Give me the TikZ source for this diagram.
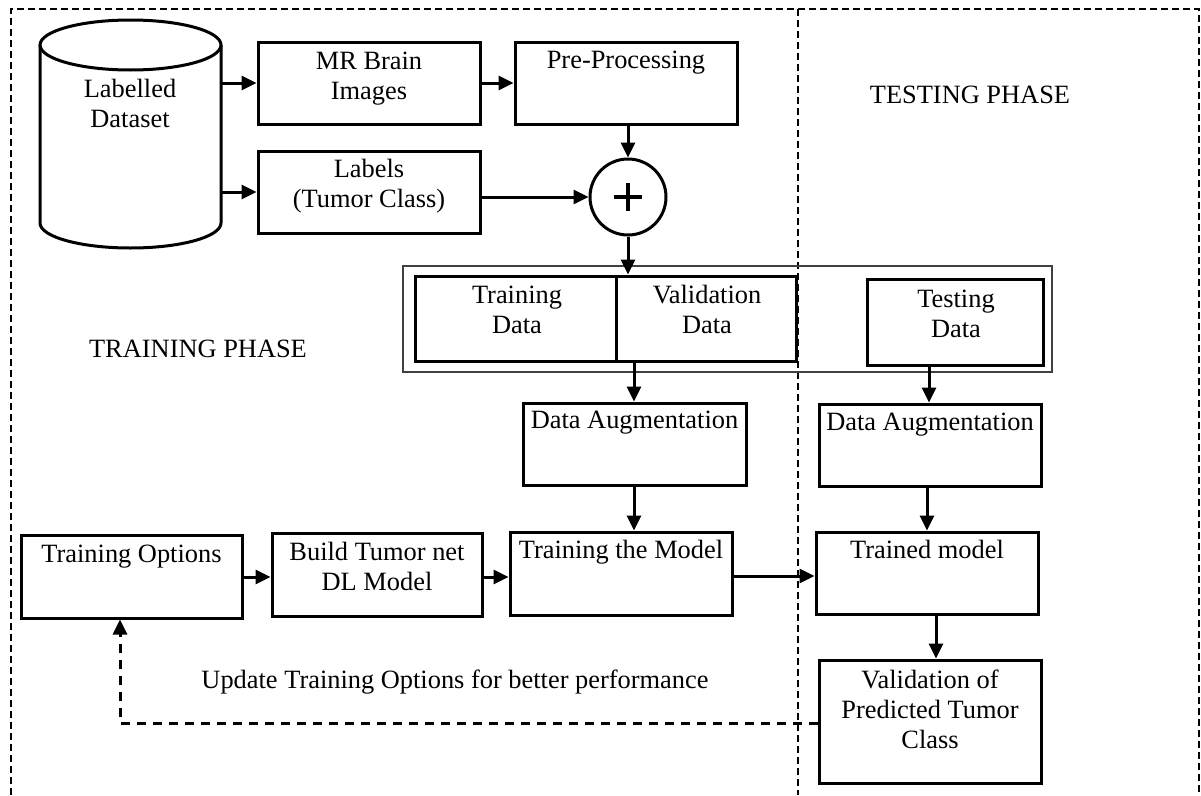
\documentclass[tikz,border=0pt]{standalone}
\usepackage{fontspec}
\setmainfont{Liberation Serif}
\usetikzlibrary{arrows.meta,shapes.geometric}

\tikzset{
  box/.style={draw, line width=3pt, inner sep=0pt, minimum width=#1},
  box/.default=222pt,
  txt/.style={inner sep=0pt, anchor=base, align=center},
  tip/.tip={Triangle[length=15pt,width=14pt]},
  link/.style={line width=3pt, -tip},
  feedback/.style={line width=3pt, dash pattern=on 9pt off 7pt, -tip},
  frame/.style={line width=2.8pt, dash pattern=on 7pt off 4pt},
  holder/.style={draw, line width=1.6pt, black!75, inner sep=0pt},
}

\begin{document}
\begin{tikzpicture}[x=1pt, y=-1pt, font=\fontsize{26.4}{30}\selectfont]
\useasboundingbox (0,0) rectangle (1201,795);

% phase frame and divider
\draw[frame] (11,795) -- (11,9) -- (1199,9) -- (1199,795);
\draw[frame] (798,9) -- (798,795);

% phase titles
\node[txt] (trainphase) at (198,357) {TRAINING PHASE};
\node[txt] (testphase) at (970,103) {TESTING PHASE};

% dataset cylinder (multi-line labels are placed by their last baseline)
\coordinate (dbc) at (130.5,134);
\draw[line width=3pt, fill=white] (40,45) -- (40,223) arc[start angle=180, end angle=0, x radius=90.5, y radius=25] -- (221,45);
\draw[line width=3pt] (130.5,45) ellipse[x radius=90.5, y radius=25];
\node[draw=none, minimum width=181pt, minimum height=228pt, inner sep=0pt] (db) at (dbc) {};
\node[txt] (dbT) at (130,127) {Labelled\\Dataset};

% upper boxes
\node[box, minimum height=82pt] (mr) at (369,83) {};
\node[txt] (mrT) at (369,99) {MR Brain\\Images};
\node[box, minimum height=82pt] (pre) at (626,83) {};
\node[txt] (preT) at (626,68) {Pre-Processing};
\node[box, minimum height=82pt] (lab) at (369,192) {};
\node[txt] (labT) at (369,207) {Labels\\(Tumor Class)};

% summing junction
\node[draw, circle, line width=3pt, minimum size=76pt, inner sep=0pt] (sum) at (628,197) {};
\draw[line width=3.6pt] (614,197) -- (642,197) (628,183) -- (628,211);

% data split
\node[holder, minimum width=649pt, minimum height=106pt] (split) at (727.5,319) {};
\node[box=201pt, minimum height=85pt] (trd) at (515.5,318.5) {};
\node[txt] (trdT) at (517,333) {Training\\Data};
\node[box=180pt, minimum height=85pt] (vad) at (706,318.5) {};
\node[txt] (vadT) at (707,333) {Validation\\Data};
\node[box=176pt, minimum height=86pt] (ted) at (955,322) {};
\node[txt] (tedT) at (956,337) {Testing\\Data};

% augmentation
\node[box=223pt, minimum height=82pt] (aug) at (634.5,444) {};
\node[txt] (augT) at (634.5,428) {Data Augmentation};
\node[box=222pt, minimum height=82pt] (taug) at (930,445) {};
\node[txt] (taugT) at (930,430) {Data Augmentation};

% model row
\node[box=221pt, minimum height=83pt] (opt) at (131.5,576.5) {};
\node[txt] (optT) at (131.5,562) {Training Options};
\node[box=210pt, minimum height=83pt] (build) at (377,574.5) {};
\node[txt] (buildT) at (377,590) {Build Tumor net\\DL Model};
\node[box=222pt, minimum height=83pt] (train) at (621,573.5) {};
\node[txt] (trainT) at (621,558) {Training the Model};
\node[box=222pt, minimum height=82pt] (trained) at (927,573) {};
\node[txt] (trainedT) at (927,558) {Trained model};
\node[box=222pt, minimum height=123pt] (valid) at (930,721.5) {};
\node[txt] (validT) at (930,748) {Validation of\\Predicted Tumor\\Class};

\node[txt] (updT) at (455,688) {Update Training Options for better performance};

% connectors
\draw[link] (db.east |- mr.west) -- (mr.west);
\draw[link] (db.east |- lab.west) -- (lab.west);
\draw[link] (mr.east) -- (pre.west);
\draw[link] (pre.south -| sum.north) -- (sum.north);
\draw[link] (lab.east |- sum.west) -- (sum.west);
\draw[link] (sum.south) -- (sum.south |- trd.north);
\draw[link] (634,361) coordinate (splitout) -- (splitout |- aug.north);
\draw[link] (929,365) coordinate (testout) -- (testout |- taug.north);
\draw[link] (aug.south -| 634,0) -- (train.north -| 634,0);
\draw[link] (taug.south -| trained.north) -- (trained.north);
\draw[link] (opt.east |- 0,577) -- (build.west |- 0,577);
\draw[link] (build.east |- 0,577) -- (train.west |- 0,577);
\draw[link] (train.east |- 0,576) -- (trained.west |- 0,576);
\draw[link] (trained.south -| 936,0) -- (valid.north -| 936,0);
\draw[feedback] (valid.west |- 0,723) -- (120,723) -- (opt.south -| 120,0);
\end{tikzpicture}
\end{document}
